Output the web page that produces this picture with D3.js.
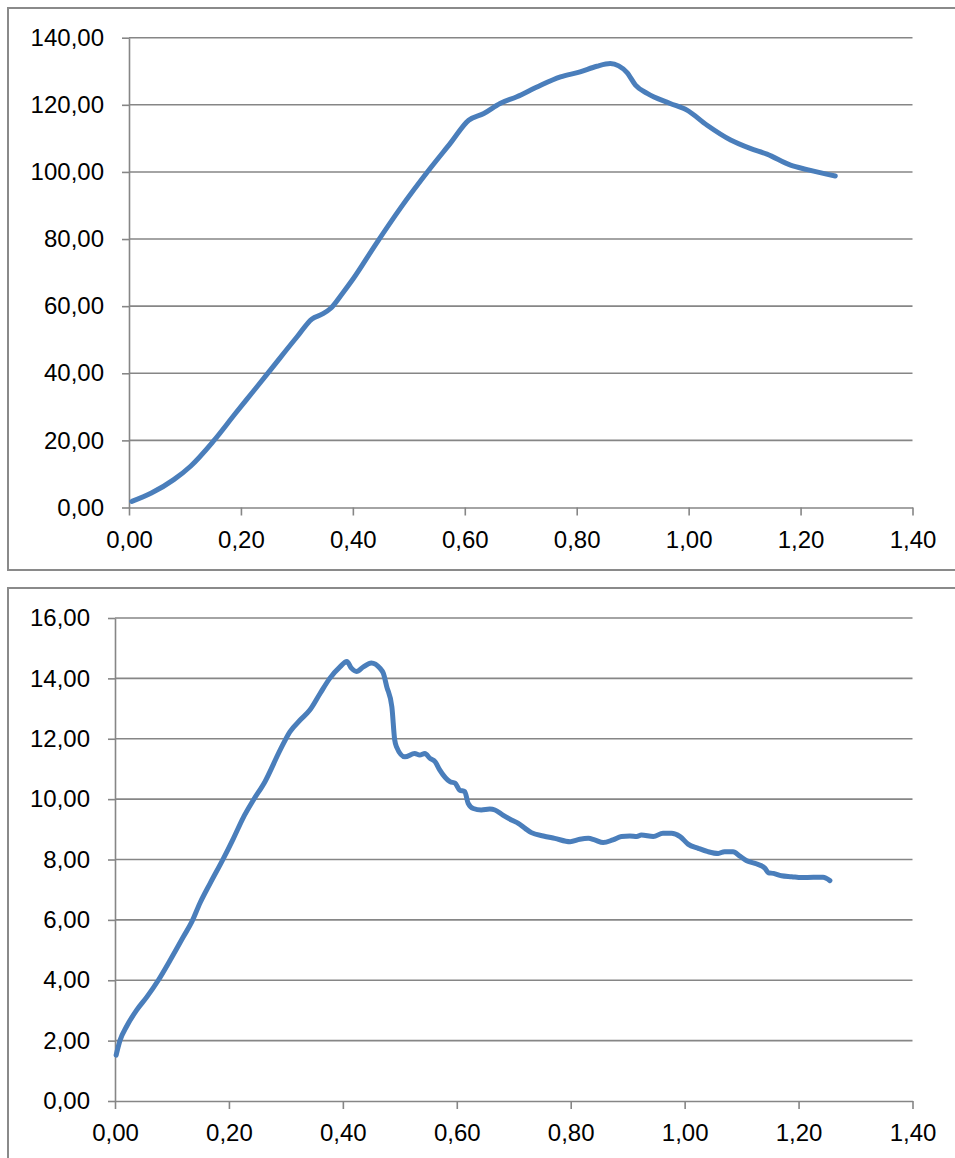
<!DOCTYPE html>
<html>
<head>
<meta charset="utf-8">
<script src="https://cdn.jsdelivr.net/npm/d3@7"></script>
<style>
  html, body { margin: 0; padding: 0; background: #fff; }
  svg { display: block; }
  text { font-family: "Liberation Sans", Arial, sans-serif; font-size: 24px; fill: #000; }
</style>
</head>
<body>
<svg id="chart" width="955" height="1158"></svg>
<script>
// Shared x-axis ticks (both charts)
const xTicks = [0, 0.2, 0.4, 0.6, 0.8, 1.0, 1.2, 1.4];

// Upper chart: force curve
const topYTicks = [0, 20, 40, 60, 80, 100, 120, 140];
const topX = [0.005, 0.04, 0.08, 0.11, 0.15, 0.19, 0.22, 0.25, 0.27, 0.30, 0.327, 0.345, 0.36, 0.38, 0.40, 0.44, 0.485,
  0.538, 0.574, 0.607, 0.634, 0.663, 0.693, 0.729, 0.771, 0.806, 0.836, 0.86, 0.875, 0.89, 0.905, 0.926, 0.967,
  0.997, 1.033, 1.075, 1.11, 1.14, 1.182, 1.212, 1.262];
const topY = [1.8, 4.3, 8.3, 12.3, 19.6, 28.0, 34.2, 40.4, 44.6, 50.8, 56.2, 57.6, 59.3, 63.5, 68.0, 78.2, 89.2,
  101.0, 108.5, 115.4, 117.4, 120.4, 122.4, 125.3, 128.3, 129.8, 131.5, 132.3, 131.6, 129.6, 125.9, 123.4, 120.4,
  118.4, 113.9, 109.5, 107.0, 105.3, 102.0, 100.7, 98.8];

// Lower chart: stress curve
const bottomYTicks = [0, 2, 4, 6, 8, 10, 12, 14, 16];
const bottomX = [0.002, 0.009, 0.02, 0.038, 0.056, 0.076, 0.097, 0.12, 0.135, 0.149, 0.167, 0.19, 0.208, 0.225, 0.243,
  0.263, 0.29, 0.307, 0.325, 0.342, 0.36, 0.377, 0.395, 0.407, 0.415, 0.424, 0.436, 0.45, 0.465, 0.471, 0.477, 0.486,
  0.491, 0.494, 0.509, 0.526, 0.535, 0.544, 0.553, 0.562, 0.570, 0.588, 0.597, 0.605, 0.614, 0.62, 0.629, 0.643,
  0.658, 0.667, 0.681, 0.696, 0.708, 0.72, 0.731, 0.752, 0.772, 0.799, 0.816, 0.831, 0.842, 0.857, 0.874, 0.889,
  0.904, 0.916, 0.924, 0.945, 0.962, 0.977, 0.992, 1.006, 1.024, 1.041, 1.059, 1.07, 1.085, 1.097, 1.109, 1.127,
  1.141, 1.147, 1.156, 1.170, 1.188, 1.205, 1.226, 1.243, 1.255];
const bottomY = [1.52, 2.02, 2.46, 3.01, 3.45, 4.0, 4.67, 5.44, 5.94, 6.55, 7.21, 8.02, 8.70, 9.38, 9.97,
  10.57, 11.63, 12.23, 12.62, 12.95, 13.5, 14.0, 14.38, 14.56, 14.34, 14.23, 14.38, 14.51, 14.34, 14.17, 13.73, 13.06,
  11.96, 11.74, 11.40, 11.51, 11.46, 11.51, 11.35, 11.24, 10.97, 10.58, 10.53, 10.30, 10.25, 9.86, 9.69, 9.64,
  9.67, 9.64, 9.47, 9.31, 9.2, 9.03, 8.89, 8.78, 8.70, 8.59, 8.67, 8.70, 8.65, 8.56, 8.65, 8.76,
  8.78, 8.76, 8.81, 8.76, 8.87, 8.87, 8.76, 8.51, 8.37, 8.26, 8.20, 8.26, 8.26, 8.11, 7.96, 7.85,
  7.71, 7.56, 7.54, 7.46, 7.43, 7.40, 7.41, 7.41, 7.30];

const locale = d3.formatLocale({ decimal: ",", thousands: ".", grouping: [3], currency: ["", ""] });
const fmt = locale.format(".2f");

const svg = d3.select("#chart");
const gridColor = "#868686";
const lineColor = "#4a7ebb";

function drawPanel(cfg) {
  const g = svg.append("g");

  // panel frame
  g.append("rect")
    .attr("x", cfg.frame.x).attr("y", cfg.frame.y)
    .attr("width", cfg.frame.w).attr("height", cfg.frame.h)
    .attr("fill", "#fff").attr("stroke", "#8a8a8a").attr("stroke-width", 2);

  const x = d3.scaleLinear().domain([0, 1.4]).range([cfg.left, cfg.right]);
  const y = d3.scaleLinear().domain([0, cfg.yMax]).range([cfg.bottom, cfg.top]);

  // horizontal gridlines
  g.append("g").selectAll("line")
    .data(cfg.yTicks.filter(d => d > 0))
    .join("line")
    .attr("x1", cfg.left).attr("x2", cfg.right)
    .attr("y1", d => y(d)).attr("y2", d => y(d))
    .attr("stroke", gridColor).attr("stroke-width", 1.6);

  // y axis
  const yAxis = g.append("g")
    .attr("transform", `translate(${cfg.left},0)`)
    .call(d3.axisLeft(y).tickValues(cfg.yTicks).tickFormat(fmt).tickSizeInner(7).tickSizeOuter(0).tickPadding(18));
  yAxis.select(".domain").attr("stroke", gridColor).attr("stroke-width", 1.6);
  yAxis.selectAll(".tick line").attr("stroke", gridColor).attr("stroke-width", 1.6);
  yAxis.selectAll("text")
    .attr("fill", "#000")
    .style("font-family", '"Liberation Sans", Arial, sans-serif')
    .style("font-size", "24px");

  // x axis
  const xAxis = g.append("g")
    .attr("transform", `translate(0,${cfg.bottom})`)
    .call(d3.axisBottom(x).tickValues(xTicks).tickFormat(fmt).tickSizeInner(8).tickSizeOuter(0).tickPadding(15));
  xAxis.select(".domain").attr("stroke", gridColor).attr("stroke-width", 1.6);
  xAxis.selectAll(".tick line").attr("stroke", gridColor).attr("stroke-width", 1.6);
  xAxis.selectAll("text")
    .attr("fill", "#000")
    .style("font-family", '"Liberation Sans", Arial, sans-serif')
    .style("font-size", "24px");

  // data line
  const pts = cfg.xs.map((v, i) => [v, cfg.ys[i]]);
  g.append("path")
    .datum(pts)
    .attr("fill", "none")
    .attr("stroke", lineColor)
    .attr("stroke-width", 5)
    .attr("stroke-linejoin", "round")
    .attr("stroke-linecap", "round")
    .attr("d", d3.line().x(d => x(d[0])).y(d => y(d[1])).curve(d3.curveMonotoneX));
}

drawPanel({
  frame: { x: 8, y: 8, w: 950, h: 562 },
  left: 129, right: 912.5, top: 37.7, bottom: 507.5,
  yMax: 140, yTicks: topYTicks, xs: topX, ys: topY
});

drawPanel({
  frame: { x: 8, y: 588, w: 950, h: 600 },
  left: 115, right: 912.5, top: 618, bottom: 1101,
  yMax: 16, yTicks: bottomYTicks, xs: bottomX, ys: bottomY
});
</script>
</body>
</html>
